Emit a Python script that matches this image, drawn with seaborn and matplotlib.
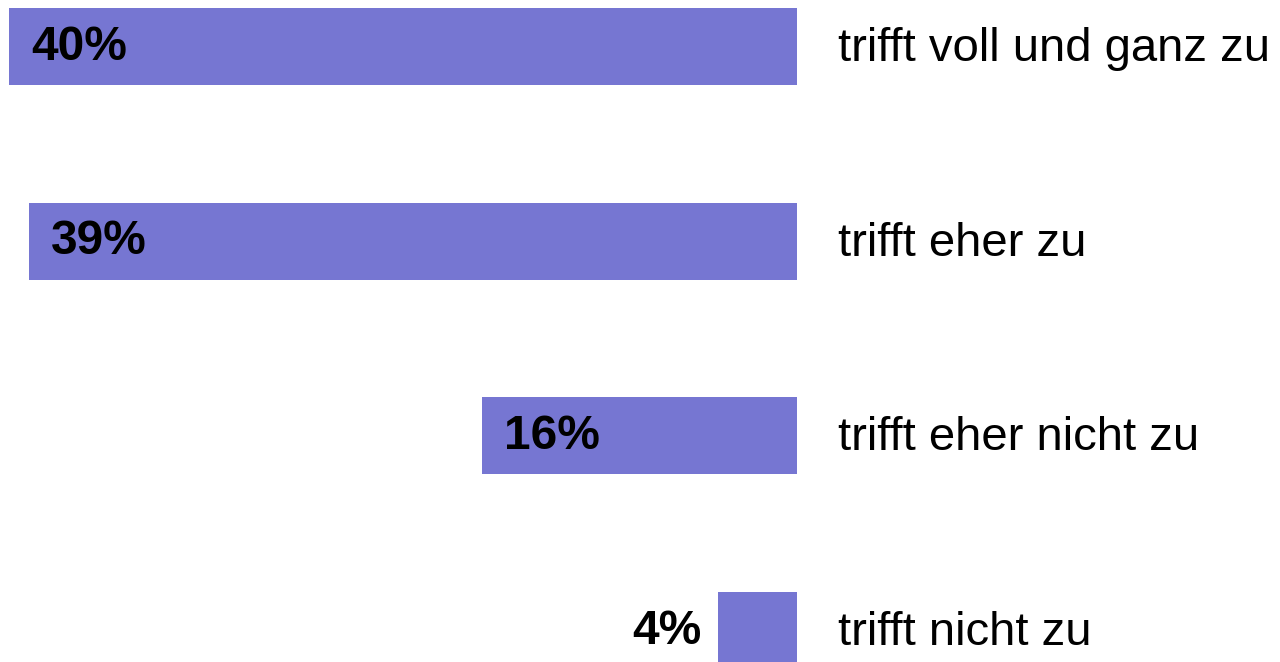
import matplotlib
matplotlib.use("Agg")
import matplotlib.pyplot as plt
import seaborn as sns
import pandas as pd

categories = ["trifft voll und ganz zu", "trifft eher zu", "trifft eher nicht zu", "trifft nicht zu"]
values = [40, 39, 16, 4]
value_labels = ["40%", "39%", "16%", "4%"]

sns.set_theme(style="white")
plt.rcParams['font.family'] = ['Liberation Sans', 'DejaVu Sans']

df = pd.DataFrame({"category": categories, "value": values})

fig = plt.figure(figsize=(12.8, 6.62), dpi=100)
ax = fig.add_axes([0, 0, 1, 1])
sns.barplot(data=df, y="category", x="value", orient="h", color="#7676D2",
            width=0.395, saturation=1, ax=ax, edgecolor="none")

ax.set_xlim(40.46, -24.52)
ax.set_ylim(3.161, -0.239)
ax.axis("off")

px = (40.46 + 24.52) / 1280.0  # data units per pixel
for i, (v, lab, cat) in enumerate(zip(values, value_labels, categories)):
    if v >= 10:
        ax.text(v - 22 * px, i + 0.003, lab, ha="left", va="center",
                fontsize=34.5, fontweight="bold", color="black")
    else:
        ax.text(v + 17 * px, i + 0.003, lab, ha="right", va="center",
                fontsize=34.5, fontweight="bold", color="black")
    ax.text(-41 * px, i + 0.013, cat, ha="left", va="center", fontsize=34, color="black")

fig.savefig("out.png", dpi=100)
